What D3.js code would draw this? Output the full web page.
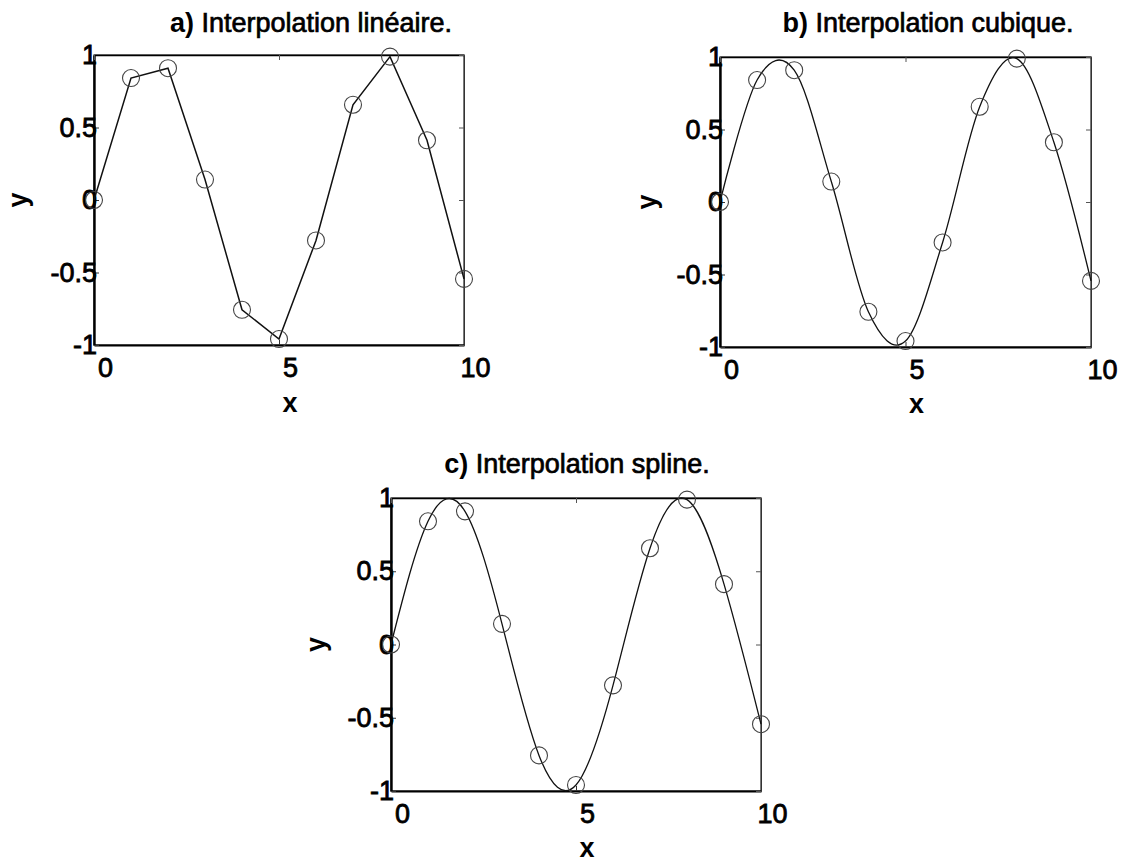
<!DOCTYPE html>
<html>
<head>
<meta charset="utf-8">
<script src="https://cdn.jsdelivr.net/npm/d3@7"></script>
<style>
  html, body { margin: 0; padding: 0; background: #fff; }
  svg { display: block; font-family: "Liberation Sans", Arial, Helvetica, sans-serif; }
</style>
</head>
<body>
<svg id="chart" width="1124" height="863"></svg>
<script>
// Sample points (x = 0..10) shared by the three panels
const xValues = [0, 1, 2, 3, 4, 5, 6, 7, 8, 9, 10];
const yValues = [0, 0.841, 0.909, 0.141, -0.757, -0.959, -0.279, 0.657, 0.989, 0.412, -0.544];

// Axis ticks
const xTicks = [0, 5, 10];
const xTickLabels = ["0", "5", "10"];
const yTicks = [-1, -0.5, 0, 0.5, 1];
const yTickLabels = ["-1", "-0.5", "0", "0.5", "1"];

// Panel titles
const titlePrefixes = ["a)", "b)", "c)"];
const titleTexts = [" Interpolation linéaire.", " Interpolation cubique.", " Interpolation spline."];

// Panel frames and text anchors (pixels)
const panels = [
  { left: 94,  top: 55,  width: 370, height: 290, titleX: 311, titleY: 32,  ylabX: 19,  xlabY: 412, curve: d3.curveLinear },
  { left: 720, top: 57,  width: 371, height: 290, titleX: 928, titleY: 32,  ylabX: 648, xlabY: 413, curve: d3.curveCardinal.tension(0) },
  { left: 391, top: 498, width: 370, height: 293, titleX: 577, titleY: 473, ylabX: 317, xlabY: 857, curve: d3.curveNatural }
];

const svg = d3.select("#chart");
const points = xValues.map((x, i) => ({ x, y: yValues[i] }));

// heavier-than-regular text, as in the printed figure
function heavy(sel, w) {
  return sel.attr("stroke", "#000").attr("stroke-width", w).attr("paint-order", "stroke");
}

panels.forEach((p, k) => {
  const x = d3.scaleLinear().domain([0, 10]).range([p.left, p.left + p.width]);
  const y = d3.scaleLinear().domain([-1, 1]).range([p.top + p.height, p.top]);
  const g = svg.append("g");

  // frame
  g.append("rect")
    .attr("x", p.left).attr("y", p.top)
    .attr("width", p.width).attr("height", p.height)
    .attr("fill", "none").attr("stroke", "#222").attr("stroke-width", 1.2);

  // bottom axis with inward ticks
  const xb = g.append("g")
    .attr("transform", `translate(0,${p.top + p.height})`)
    .call(d3.axisBottom(x).tickValues(xTicks).tickFormat((d, i) => xTickLabels[i])
      .tickSizeInner(-5).tickSizeOuter(0).tickPadding(13));
  xb.select(".domain").attr("stroke", "#000").attr("stroke-width", 2.2);
  xb.selectAll(".tick line").attr("stroke", "#333");
  heavy(xb.selectAll(".tick text").attr("dx", 11)
    .attr("font-size", 27).attr("font-weight", "normal").attr("fill", "#000"), 0.8);

  // left axis with inward ticks
  const yl = g.append("g")
    .attr("transform", `translate(${p.left},0)`)
    .call(d3.axisLeft(y).tickValues(yTicks).tickFormat((d, i) => yTickLabels[i])
      .tickSizeInner(-5).tickSizeOuter(0).tickPadding(-3));
  yl.select(".domain").attr("stroke", "#000").attr("stroke-width", 2.4);
  yl.selectAll(".tick line").attr("stroke", "#333");
  heavy(yl.selectAll(".tick text")
    .attr("font-size", 27).attr("font-weight", "normal").attr("fill", "#000"), 0.8);

  // top and right ticks (no labels)
  const xt = g.append("g")
    .attr("transform", `translate(0,${p.top})`)
    .call(d3.axisTop(x).tickValues(xTicks).tickFormat("").tickSizeInner(-5).tickSizeOuter(0));
  xt.select(".domain").attr("stroke", "#000").attr("stroke-width", 1.6);
  xt.selectAll(".tick line").attr("stroke", "#555");
  const yr = g.append("g")
    .attr("transform", `translate(${p.left + p.width},0)`)
    .call(d3.axisRight(y).tickValues(yTicks).tickFormat("").tickSizeInner(-5).tickSizeOuter(0));
  yr.select(".domain").attr("stroke", "#333").attr("stroke-width", 1);
  yr.selectAll(".tick line").attr("stroke", "#555");

  // interpolating curve through the samples
  const line = d3.line().x(d => x(d.x)).y(d => y(d.y)).curve(p.curve);
  g.append("path")
    .datum(points)
    .attr("d", line)
    .attr("fill", "none")
    .attr("stroke", "#111")
    .attr("stroke-width", k === 0 ? 1.5 : 1.3);

  // sample markers
  g.selectAll("circle.pt")
    .data(points)
    .join("circle")
    .attr("class", "pt")
    .attr("cx", d => x(d.x)).attr("cy", d => y(d.y))
    .attr("r", 8.5)
    .attr("fill", "none")
    .attr("stroke", "#444")
    .attr("stroke-width", 1.1);

  // title
  const t = g.append("text")
    .attr("x", p.titleX).attr("y", p.titleY)
    .attr("text-anchor", "middle")
    .attr("font-size", 27).attr("fill", "#000");
  t.append("tspan").attr("font-weight", "bold").text(titlePrefixes[k]);
  heavy(t.append("tspan"), 0.7).text(titleTexts[k]);

  // axis labels
  g.append("text")
    .attr("transform", `translate(${p.ylabX + 8},${p.top + p.height / 2}) rotate(-90)`)
    .attr("text-anchor", "middle")
    .attr("font-size", 27).attr("font-weight", "bold").attr("fill", "#000")
    .text("y");
  g.append("text")
    .attr("x", p.left + p.width / 2 + 11).attr("y", p.xlabY)
    .attr("text-anchor", "middle")
    .attr("font-size", 27).attr("font-weight", "bold").attr("fill", "#000")
    .text("x");
});
</script>
</body>
</html>
